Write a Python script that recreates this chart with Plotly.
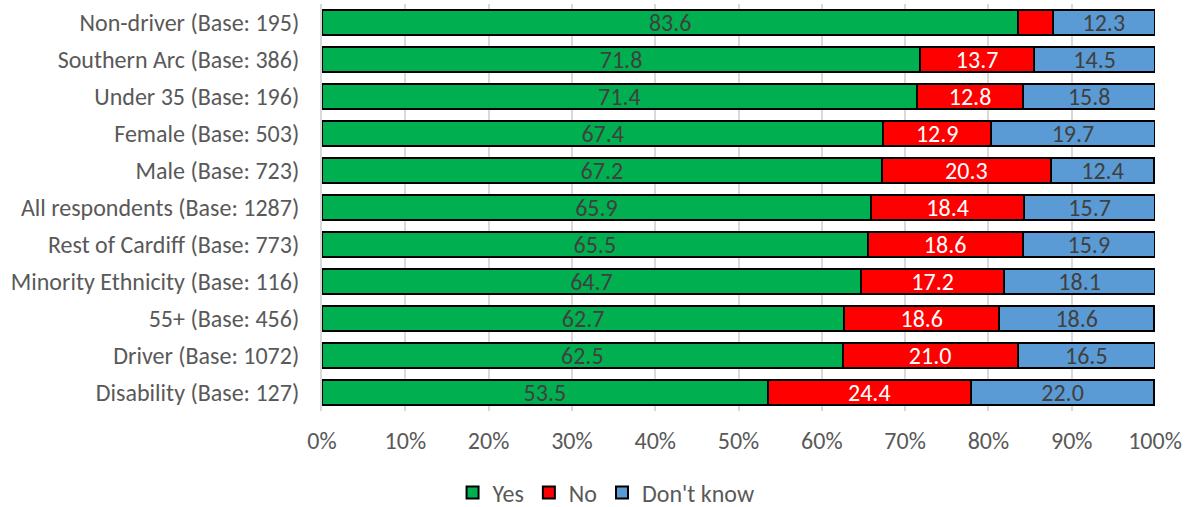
import plotly.graph_objects as go

categories = [
    "Non-driver (Base: 195)",
    "Southern Arc (Base: 386)",
    "Under 35 (Base: 196)",
    "Female (Base: 503)",
    "Male (Base: 723)",
    "All respondents (Base: 1287)",
    "Rest of Cardiff (Base: 773)",
    "Minority Ethnicity (Base: 116)",
    "55+ (Base: 456)",
    "Driver (Base: 1072)",
    "Disability (Base: 127)",
]
yes_vals = [83.6, 71.8, 71.4, 67.4, 67.2, 65.9, 65.5, 64.7, 62.7, 62.5, 53.5]
no_vals = [4.1, 13.7, 12.8, 12.9, 20.3, 18.4, 18.6, 17.2, 18.6, 21.0, 24.4]
dk_vals = [12.3, 14.5, 15.8, 19.7, 12.4, 15.7, 15.9, 18.1, 18.6, 16.5, 22.0]
no_labels_shown = [False] + [True] * 10

font_family = "Carlito, Calibri, Lato, sans-serif"
fs = 24

def fmt(v):
    return f"{v:.1f}"

fig = go.Figure()
fig.add_trace(go.Bar(
    y=categories, x=[v / 100 for v in yes_vals], name="Yes", orientation="h",
    marker=dict(color="#00B050", line=dict(color="#000000", width=2)),
    text=[fmt(v) for v in yes_vals], textposition="inside", insidetextanchor="middle",
    textangle=0, constraintext="none",
    textfont=dict(color="#404040", size=fs, family=font_family),
))
fig.add_trace(go.Bar(
    y=categories, x=[v / 100 for v in no_vals], name="No", orientation="h",
    marker=dict(color="#FF0000", line=dict(color="#000000", width=2)),
    text=[fmt(v) if s else "" for v, s in zip(no_vals, no_labels_shown)],
    textposition="inside", insidetextanchor="middle",
    textangle=0, constraintext="none",
    textfont=dict(color="#FFFFFF", size=fs, family=font_family),
))
fig.add_trace(go.Bar(
    y=categories, x=[v / 100 for v in dk_vals], name="Don't know", orientation="h",
    marker=dict(color="#5B9BD5", line=dict(color="#000000", width=2)),
    text=[fmt(v) for v in dk_vals], textposition="inside", insidetextanchor="middle",
    textangle=0, constraintext="none",
    textfont=dict(color="#404040", size=fs, family=font_family),
))

fig.update_layout(
    barmode="stack",
    bargap=0.35,
    width=1192, height=507,
    margin=dict(l=322, r=37, t=4, b=96, autoexpand=False),
    paper_bgcolor="white", plot_bgcolor="white",
    font=dict(family=font_family, size=fs, color="#595959"),
    uniformtext=dict(mode=False),
    legend=dict(
        orientation="h", xref="paper", yref="paper",
        x=0.341, xanchor="center", y=-0.201, yanchor="middle",
        font=dict(size=fs, color="#595959"),
        traceorder="normal",
    ),
    xaxis=dict(
        range=[0, 1], tickformat=".0%", dtick=0.1,
        showgrid=True, gridcolor="#D9D9D9", gridwidth=1.5,
        zeroline=False, ticks="", tickfont=dict(size=fs, color="#595959"),
        ticklabelstandoff=13, automargin=False,
    ),
    yaxis=dict(
        autorange="reversed", showline=True, linecolor="#D9D9D9", linewidth=2,
        ticks="", ticklabelstandoff=16, tickfont=dict(size=fs, color="#595959"),
        automargin=False,
    ),
)

fig.write_html("out.html", config={"displayModeBar": False},
               post_script="document.body.style.margin='0';")
